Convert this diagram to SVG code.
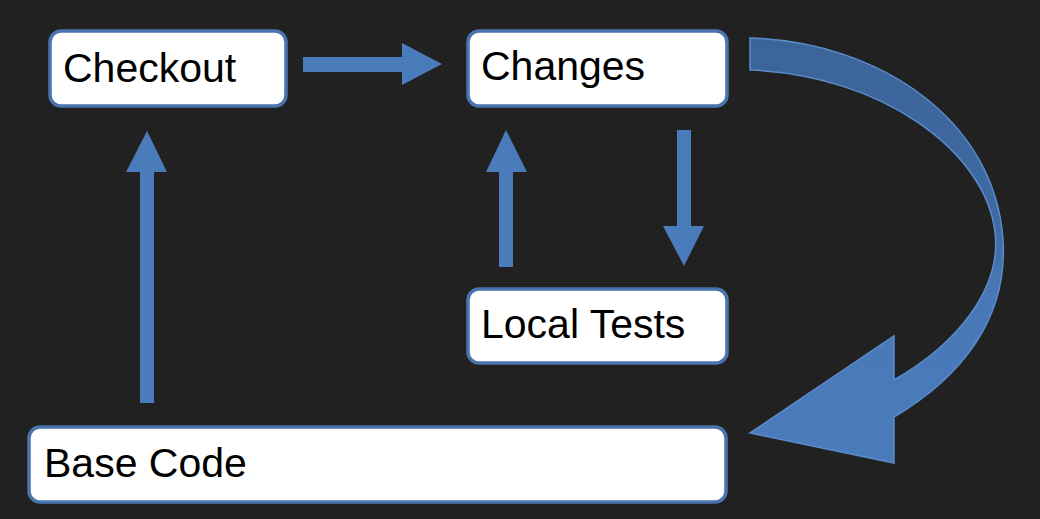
<svg xmlns="http://www.w3.org/2000/svg" width="1040" height="519" viewBox="0 0 1040 519">
<defs>
<style>
.box{fill:#ffffff;stroke:#4a74ad;stroke-width:3.5}
.lbl{font-family:"Liberation Sans",Arial,sans-serif;font-size:41px;fill:#000}
.arr{fill:#4a7bbb}
</style>
<linearGradient id="curve" x1="0" y1="0" x2="0" y2="1">
<stop offset="0" stop-color="#3b6499"/>
<stop offset="0.45" stop-color="#3f6aa3"/>
<stop offset="0.6" stop-color="#4878b6"/>
<stop offset="1" stop-color="#4a7bbb"/>
</linearGradient>
</defs>
<rect width="1040" height="519" fill="#212121"/>
<g id="connectors">
<path class="arr" d="M303,57 H402 V43 L442,64 L402,85 V72 H303 Z"/>
<path class="arr" d="M140,403 V172 H126 L147,131 L167,172 H154 V403 Z"/>
<path class="arr" d="M499,267 V172 H486 L506,130 L527,172 H513 V267 Z"/>
<path class="arr" d="M677,130 H691 V226 H704 L684,266 L663,226 H677 Z"/>
<path fill="url(#curve)" stroke="#5a8ccc" stroke-width="1.5" d="M750,38 C880,42 995,120 1003,240 C1008,320 960,378 894,417 L894,463 L750,433 L894,336 L894,380 C955,345 1002,290 995,232 C985,150 880,75 750,70 Z"/>
</g>
<g id="checkout">
<rect class="box" x="50" y="31" width="236" height="75" rx="11"/>
<text class="lbl" x="63" y="82">Checkout</text>
</g>
<g id="changes">
<rect class="box" x="468" y="31" width="259" height="75" rx="11"/>
<text class="lbl" x="481" y="80">Changes</text>
</g>
<g id="local-tests">
<rect class="box" x="468" y="289" width="259" height="74" rx="11"/>
<text class="lbl" x="481" y="338">Local Tests</text>
</g>
<g id="base-code">
<rect class="box" x="29" y="427" width="697" height="75" rx="11"/>
<text class="lbl" x="44" y="477">Base Code</text>
</g>
</svg>
